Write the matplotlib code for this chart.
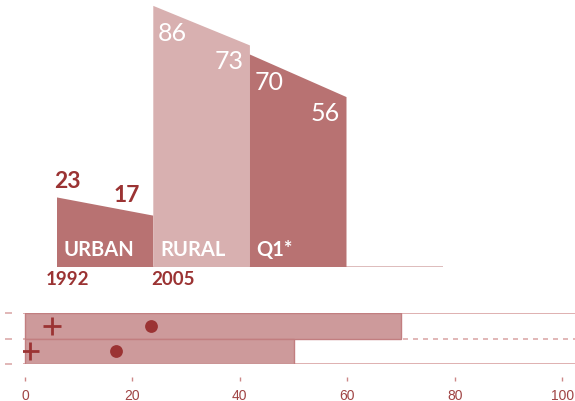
import matplotlib
matplotlib.use("Agg")
import matplotlib.pyplot as plt

# top panel: value pairs (start year, end year) per group
groups = ["URBAN", "RURAL", "Q1*"]
start_vals = [23, 86, 70]
end_vals = [17, 73, 56]
years = ["1992", "2005"]

# bottom panel: two rows (top, bottom)
bar_vals = [70, 50]
plus_vals = [5, 1]
dot_vals = [23.5, 17]
xticks = [0, 20, 40, 60, 80, 100]

dark = "#9b3333"
fills = ["#b87272", "#d8b0b0", "#b87272"]
W, H = 575, 402

fig = plt.figure(figsize=(W / 100, H / 100), dpi=100)

# ---- top panel
ax = fig.add_axes([56.7 / W, (H - 268.3) / H, 386.4 / W, 267.5 / H])
ax.set_xlim(0, 4)
ax.set_ylim(0, 88)
ax.axis("off")
ax.plot([0, 4], [0, 0], color="#d8b0b0", lw=1.2, zorder=1)

for i, g in enumerate(groups):
    a, b = start_vals[i], end_vals[i]
    ax.fill([i, i, i + 1, i + 1], [0, a, b, 0], color=fills[i], lw=0, zorder=2)
    ax.text(i + 0.07, 6, g, color="white", fontsize=14.5, fontweight="bold",
            family="Lato", ha="left", va="center", zorder=3)
    if i == 0:
        ax.annotate(str(a), (i, a), xytext=(7.5, 12.5), textcoords="offset points",
                    color=dark, fontsize=16.5, fontweight="bold", family="Lato",
                    ha="center", va="center")
        ax.annotate(str(b), (i + 1, b), xytext=(-19, 15.5), textcoords="offset points",
                    color=dark, fontsize=16.5, fontweight="bold", family="Lato",
                    ha="center", va="center")
    else:
        ax.annotate(str(a), (i, a), xytext=(14, -19.5), textcoords="offset points",
                    color="white", fontsize=18, family="Lato",
                    ha="center", va="center", zorder=3)
        ax.annotate(str(b), (i + 1, b), xytext=(-15, -11), textcoords="offset points",
                    color="white", fontsize=18, family="Lato",
                    ha="center", va="center", zorder=3)

for x, y in zip([0.11, 1.2], years):
    ax.annotate(y, (x, 0), xytext=(0, -8), textcoords="offset points",
                color=dark, fontsize=13.5, fontweight="bold", family="Lato",
                ha="center", va="center", annotation_clip=False)

# ---- bottom panel
bx = fig.add_axes([23.3 / W, 37 / H, (W - 23.3) / W, 51 / H])
bx.set_xlim(-0.3, 102.4)
bx.set_ylim(0, 2)
line_c = "#dcaaaa"
bx.axhline(2, color=line_c, lw=1.3, zorder=1)
bx.axhline(0, color=line_c, lw=1.3, zorder=1)
bx.axhline(1, color=line_c, lw=1.2, ls=(0, (3, 3)), zorder=1)

rows = [1.5, 0.5]
bx.barh(rows, bar_vals, height=1, color="#cd9a9b", edgecolor="#c27e80", lw=1, zorder=2)
bx.scatter(plus_vals, rows, marker="+", s=150, color=dark, linewidths=2, zorder=3)
bx.scatter(dot_vals, rows, marker="o", s=85, color=dark, lw=0, zorder=3)

for s in bx.spines.values():
    s.set_visible(False)
bx.spines["left"].set_position(("outward", 8))
bx.spines["bottom"].set_position(("outward", 9))
bx.set_yticks([0, 1, 2])
bx.set_yticklabels([])
bx.tick_params(axis="y", length=5, width=1.2, color=line_c)
bx.set_xticks(xticks)
bx.tick_params(axis="x", length=3, width=1, color="#cc8888", pad=5,
               labelcolor="#a04444", labelsize=10)
for lab in bx.get_xticklabels():
    lab.set_family("Liberation Sans")

fig.savefig("out.png", dpi=100)
